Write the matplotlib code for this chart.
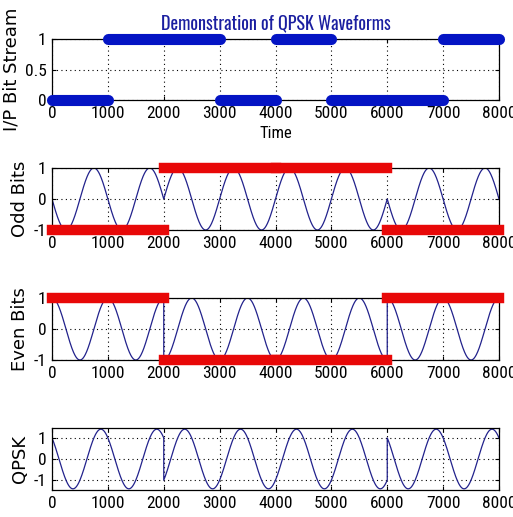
import numpy as np
import matplotlib
matplotlib.use("Agg")
import matplotlib.pyplot as plt

# ---- data ----
bits = [0, 1, 1, 0, 1, 0, 0, 1]          # input bit stream
bit_dur = 1000                           # duration of one bit
odd_bits = [-1, 1, 1, -1]                # bits 1,3,5,7 mapped to +/-1
even_bits = [1, -1, -1, 1]               # bits 2,4,6,8 mapped to +/-1
sym_dur = 2000
carrier_period = 1000
xticks = [0, 1000, 2000, 3000, 4000, 5000, 6000, 7000, 8000]

tick_font = ['Roboto Condensed', 'DejaVu Sans']
plt.rcParams['font.family'] = tick_font
plt.rcParams['axes.unicode_minus'] = False

fig = plt.figure(figsize=(5.13, 5.17), dpi=100)
W, H = 513, 517
def ax_at(l, t, r, b):
    return fig.add_axes([l / W, 1 - b / H, (r - l) / W, (b - t) / H])

axes = [ax_at(52, 39, 499, 100), ax_at(52, 168, 499, 230),
        ax_at(52, 298, 499, 360), ax_at(52, 428, 499, 490)]

sine_c = '#22228c'
red_c = '#e80808'
blue_c = '#0414c4'
lab_kw = dict(fontsize=13, family=['DejaVu Sans'], labelpad=3)

# waveform samples per symbol
t_sym = np.linspace(0, sym_dur, 401)
w = 2 * np.pi / carrier_period
tt, odd_y, even_y = [], [], []
for k, (o, e) in enumerate(zip(odd_bits, even_bits)):
    t = t_sym + k * sym_dur
    tt.append(t)
    odd_y.append(o * np.sin(w * t))
    even_y.append(e * np.cos(w * t))
tt = np.concatenate(tt)
odd_y = np.concatenate(odd_y)
even_y = np.concatenate(even_y)
qpsk_y = odd_y + even_y

# top: bit stream
ax = axes[0]
for i, b in enumerate(bits):
    ax.plot([i * bit_dur, (i + 1) * bit_dur], [b, b], color=blue_c, lw=8,
            solid_capstyle='round', clip_on=False, zorder=3)
ax.set_ylim(0, 1)
ax.set_yticks([0, 0.5, 1])
ax.set_yticklabels(['0', '0.5', '1'])
ax.set_ylabel('I/P Bit Stream', **lab_kw)
ax.set_xlabel('Time', fontsize=12, labelpad=4)
ax.set_title('Demonstration of QPSK Waveforms', fontsize=13, fontweight='bold',
             family=['Oswald', 'DejaVu Sans'], color='#1a1ea0', pad=7)

# odd
ax = axes[1]
ax.plot(tt, odd_y, color=sine_c, lw=0.9)
for k, o in enumerate(odd_bits):
    ax.plot([k * sym_dur, (k + 1) * sym_dur], [o, o], color=red_c, lw=7.5,
            solid_capstyle='projecting', clip_on=False, zorder=3)
ax.set_ylim(-1, 1)
ax.set_yticks([-1, 0, 1])
ax.set_ylabel('Odd Bits', **lab_kw)

# even
ax = axes[2]
ax.plot(tt, even_y, color=sine_c, lw=0.9)
for k, e in enumerate(even_bits):
    ax.plot([k * sym_dur, (k + 1) * sym_dur], [e, e], color=red_c, lw=7.5,
            solid_capstyle='projecting', clip_on=False, zorder=3)
ax.set_ylim(-1, 1)
ax.set_yticks([-1, 0, 1])
ax.set_ylabel('Even Bits', **lab_kw)

# qpsk
ax = axes[3]
ax.plot(tt, qpsk_y, color=sine_c, lw=0.9)
ax.set_ylim(-1.47, 1.47)
ax.set_yticks([-1, 0, 1])
ax.set_ylabel('QPSK', **lab_kw)

for ax in axes:
    ax.set_xlim(0, 8000)
    ax.set_xticks(xticks)
    ax.tick_params(direction='in', length=3, labelsize=12.5, pad=4,
                   top=True, right=True)
    ax.grid(True, linestyle=(0, (1, 3)), color='black', lw=0.8)
    for s in ax.spines.values():
        s.set_linewidth(0.9)

fig.savefig('out.png', dpi=100)
